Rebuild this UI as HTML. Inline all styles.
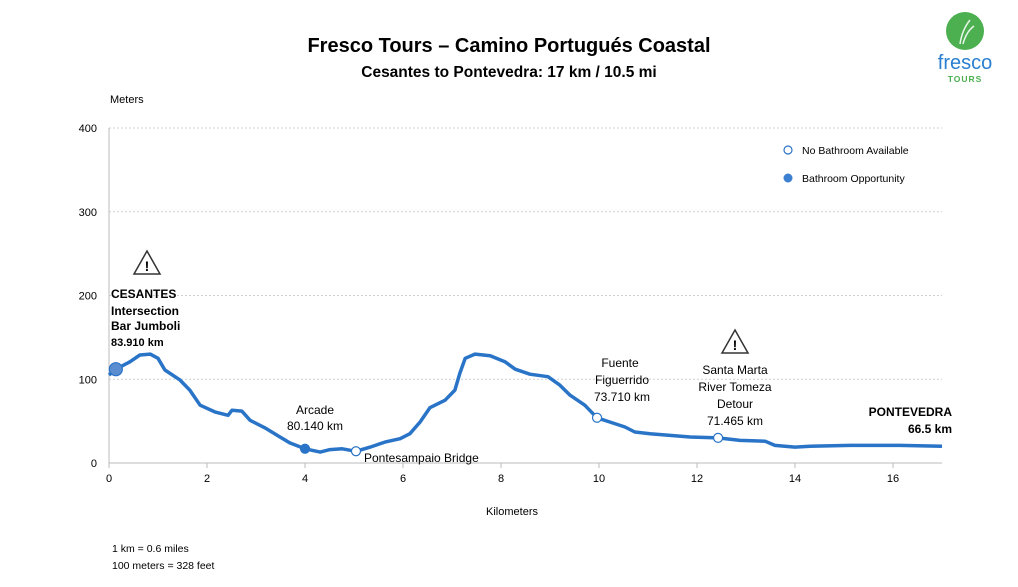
<!DOCTYPE html>
<html><head><meta charset="utf-8"><style>
body{margin:0;background:#fff;font-family:"Liberation Sans",sans-serif;}
svg text{font-family:"Liberation Sans",sans-serif;}
</style></head><body>
<svg width="1018" height="582" viewBox="0 0 1018 582">
<text x="509" y="52" text-anchor="middle" font-size="20" font-weight="bold">Fresco Tours – Camino Portugués Coastal</text>
<text x="509" y="77" text-anchor="middle" font-size="15.5" font-weight="bold">Cesantes to Pontevedra: 17 km / 10.5 mi</text>
<g>
<circle cx="965" cy="31" r="19" fill="#4caf50"/>
<path d="M960 44 Q962 30 970 20 M963 44 Q966 32 974 26" stroke="#e8f5e9" stroke-width="1.5" fill="none"/>
<text x="965" y="69" text-anchor="middle" font-size="20" fill="#2a7fd0">fresco</text>
<text x="965" y="82" text-anchor="middle" font-size="8.5" font-weight="bold" fill="#4caf50" letter-spacing="1">TOURS</text>
</g>
<text x="110" y="103" font-size="11">Meters</text>
<g id="grid"></g>
<g id="axes"></g>
<path id="profile" fill="none" stroke="#2a74c8" stroke-width="3.5" stroke-linejoin="round"/>
<g id="markers"></g>
<text x="512" y="515" text-anchor="middle" font-size="11">Kilometers</text>
<text x="112" y="552" font-size="10.5">1 km = 0.6 miles</text>
<text x="112" y="569" font-size="10.5">100 meters = 328 feet</text>
<g>
<circle cx="788" cy="150" r="4" fill="#fff" stroke="#2a74c8" stroke-width="1.2"/>
<text x="802" y="154" font-size="10.5">No Bathroom Available</text>
<circle cx="788" cy="178" r="4.5" fill="#3d7fd0"/>
<text x="802" y="182" font-size="10.5">Bathroom Opportunity</text>
</g>
<g>
<path d="M147 251 L160 274 L134 274 Z" fill="#fff" stroke="#333" stroke-width="1.5"/>
<text x="147" y="271" text-anchor="middle" font-size="14" font-weight="bold">!</text>
</g>
<g>
<path d="M735 330 L748 353 L722 353 Z" fill="#fff" stroke="#333" stroke-width="1.5"/>
<text x="735" y="350" text-anchor="middle" font-size="14" font-weight="bold">!</text>
</g>
<g font-size="12">
<text x="111" y="298" font-weight="bold">CESANTES</text>
<text x="111" y="315" font-weight="bold">Intersection</text>
<text x="111" y="330" font-weight="bold">Bar Jumboli</text>
<text x="111" y="346" font-weight="bold" font-size="11">83.910 km</text>
<text x="315" y="414" text-anchor="middle">Arcade</text>
<text x="315" y="430" text-anchor="middle">80.140 km</text>
<text x="364" y="462">Pontesampaio Bridge</text>
<text x="620" y="367" text-anchor="middle">Fuente</text>
<text x="622" y="384" text-anchor="middle">Figuerrido</text>
<text x="622" y="401" text-anchor="middle">73.710 km</text>
<text x="735" y="374" text-anchor="middle">Santa Marta</text>
<text x="735" y="391" text-anchor="middle">River Tomeza</text>
<text x="735" y="408" text-anchor="middle">Detour</text>
<text x="735" y="425" text-anchor="middle">71.465 km</text>
<text x="952" y="416" text-anchor="end" font-weight="bold">PONTEVEDRA</text>
<text x="952" y="433" text-anchor="end" font-weight="bold">66.5 km</text>
</g>
</svg>
<script>
const kmValues=[0,0.14,0.43,0.63,0.84,1.0,1.14,1.45,1.65,1.86,2.16,2.43,2.51,2.71,2.88,3.18,3.49,3.69,4.0,4.31,4.51,4.76,5.04,5.33,5.63,5.94,6.14,6.35,6.55,6.86,7.06,7.16,7.27,7.47,7.78,8.08,8.29,8.59,8.96,9.2,9.41,9.71,9.96,10.22,10.53,10.73,11.04,11.45,11.86,12.43,12.88,13.39,13.59,14.0,14.31,15.12,16.14,17];
const elevValues=[105,112,121,129,130,125,111,99,87,69,61,57,63,62,51,42,31,24,17,13,16,17,14,19,25,29,35,49,66,75,87,107,125,130,128,121,112,106,103,93,81,69,54,49,43,37,35,33,31,30,27,26,21,19,20,21,21,20];
const markerKm=[0.14,4.0,5.04,9.96,12.43];
const markerElev=[112,17,14,54,30];
const markerFilled=[true,true,false,false,false];
const xTicks=[0,2,4,6,8,10,12,14,16];
const yTicks=[0,100,200,300,400];
const X0=109,X1=942,Y0=463,Y1=128,XMAX=17,YMAX=400;
const sx=v=>X0+v*(X1-X0)/XMAX, sy=v=>Y0-v*(Y0-Y1)/YMAX;
const NS='http://www.w3.org/2000/svg';
function mk(t,a,p){const e=document.createElementNS(NS,t);for(const k in a)e.setAttribute(k,a[k]);p.appendChild(e);return e;}
const grid=document.getElementById('grid'),axes=document.getElementById('axes');
yTicks.forEach(t=>{
 if(t>0){const l=mk('line',{x1:X0,x2:X1,y1:sy(t),y2:sy(t),stroke:'#cfcfcf','stroke-dasharray':'2,2'},grid);
 
 }
 const tx=mk('text',{x:X0-12,y:sy(t)+4,'text-anchor':'end','font-size':11},axes);tx.textContent=t;
 
 
});
mk('line',{x1:X0,x2:X0,y1:Y1,y2:Y0,stroke:'#bbb'},axes);
mk('line',{x1:X0,x2:X1,y1:Y0,y2:Y0,stroke:'#bbb'},axes);
xTicks.forEach(t=>{
 mk('line',{x1:sx(t),x2:sx(t),y1:Y0,y2:Y0+5,stroke:'#bbb'},axes);
 const tx=mk('text',{x:sx(t),y:Y0+19,'text-anchor':'middle','font-size':11},axes);tx.textContent=t;
 
 
});
document.getElementById('profile').setAttribute('d',kmValues.map((k,i)=>(i?'L':'M')+sx(k).toFixed(1)+' '+sy(elevValues[i]).toFixed(1)).join(' '));
const mg=document.getElementById('markers');
markerKm.forEach((k,i)=>{
 const c=mk('circle',{cx:sx(k),cy:sy(markerElev[i]),r:i===0?6.5:4.5,fill:markerFilled[i]?(i===0?'#5b8ed0':'#2a74c8'):'#fff',stroke:'#2a74c8','stroke-width':1.2},mg);
 
 
});
</script>
</body></html>
